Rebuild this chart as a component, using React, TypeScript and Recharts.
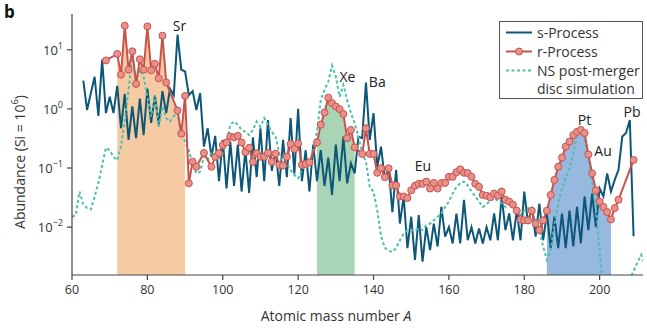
import { ComposedChart, Line, Area, XAxis, YAxis, Legend, ReferenceDot } from 'recharts';

// s-process abundances, one value per mass number starting at A = 63
const sFirstMass = 63;
const sAbundance = [
  3.0, 0.96, 1.85, 3.5, 0.76, 6.8, 0.85, 1.6, 0.85, 2.45,
  0.47, 1.8, 0.3, 1.1, 0.32, 1.5, 0.36, 2.2, 0.58, 1.7,
  0.54, 2.0, 0.85, 2.2, 1.7, 18, 4.6, 4.3, 1.7, 2.0,
  0.96, 1.85, 0.23, 0.47, 0.155, 0.35, 0.06, 0.3, 0.045, 0.28,
  0.05, 0.25, 0.04, 0.2, 0.038, 0.33, 0.07, 0.47, 0.06, 0.65,
  0.09, 0.2, 0.05, 0.3, 0.07, 0.7, 0.08, 1.0, 0.06, 0.2,
  0.04, 0.25, 0.06, 0.2, 0.05, 0.15, 0.035, 0.25, 0.06, 0.34,
  0.055, 0.12, 0.081, 0.34, 0.32, 2.8, 0.3, 0.85, 0.105, 0.23,
  0.063, 0.105, 0.018, 0.093, 0.0115, 0.033, 0.0044, 0.015, 0.0028, 0.016,
  0.0026, 0.01, 0.0041, 0.0115, 0.0047, 0.022, 0.0069, 0.01, 0.0053, 0.017,
  0.0053, 0.029, 0.006, 0.01, 0.0053, 0.0095, 0.0053, 0.01, 0.006, 0.017,
  0.006, 0.033, 0.0089, 0.017, 0.006, 0.019, 0.006, 0.04, 0.0115, 0.022,
  0.0069, 0.025, 0.006, 0.017, 0.0044, 0.015, 0.0044, 0.017, 0.0044, 0.019,
  0.0047, 0.022, 0.0053, 0.033, 0.0089, 0.037, 0.01, 0.045, 0.033, 0.081,
  0.04, 0.063, 0.093, 0.34, 0.39, 0.65, 0.007,
];

// r-process (solar residuals)
const rMass = [
  69, 72, 73, 74, 75, 76, 77, 78, 79, 80, 81, 82, 83, 84, 85, 88, 89, 90, 91, 92, 93, 95, 97,
  98, 99, 100, 101, 102, 103, 104, 105, 106, 107, 108, 109, 110, 111, 112, 113, 114, 115, 116,
  117, 118, 119, 120, 121, 122, 123, 125, 126, 127, 128, 129, 130, 131, 132, 133, 134, 135,
  137, 138, 139, 140, 141, 142, 143, 144, 145, 146, 147, 148, 149, 150, 151, 152, 153, 154,
  155, 156, 157, 158, 159, 160, 161, 162, 163, 164, 165, 166, 167, 168, 169, 170, 171, 172,
  173, 174, 175, 176, 177, 178, 179, 180, 181, 182, 183, 184, 185, 186, 187, 188, 189, 190,
  191, 192, 193, 194, 195, 196, 197, 198, 199, 200, 201, 202, 203, 204, 205, 209,
];
const rAbundance = [
  6.6, 8.5, 3.8, 25.5, 4.6, 9.4, 2.65, 6.9, 4.6, 24.8, 4.5, 5.8, 3.3, 17.3, 2.8, 0.94, 0.38, 1.66, 0.055, 0.128, 0.105, 0.18, 0.105,
  0.155, 0.178, 0.245, 0.27, 0.34, 0.33, 0.35, 0.27, 0.185, 0.22, 0.127, 0.178, 0.155, 0.155, 0.18, 0.128, 0.175, 0.113, 0.11,
  0.155, 0.255, 0.21, 0.26, 0.113, 0.117, 0.125, 0.27, 0.54, 0.87, 1.55, 1.25, 1.1, 0.99, 0.82, 0.32, 0.44, 0.224,
  0.173, 0.47, 0.173, 0.173, 0.083, 0.099, 0.07, 0.099, 0.051, 0.051, 0.033, 0.033, 0.031, 0.042, 0.05, 0.054, 0.054, 0.059,
  0.045, 0.056, 0.045, 0.056, 0.056, 0.071, 0.071, 0.085, 0.095, 0.083, 0.082, 0.071, 0.054, 0.048, 0.035, 0.034, 0.032, 0.037,
  0.034, 0.04, 0.029, 0.027, 0.024, 0.019, 0.0135, 0.013, 0.013, 0.019, 0.0115, 0.0089, 0.013, 0.019, 0.035, 0.063, 0.105, 0.15,
  0.23, 0.28, 0.36, 0.41, 0.44, 0.39, 0.17, 0.081, 0.042, 0.027, 0.022, 0.018, 0.0135, 0.021, 0.029, 0.137,
];

// NS post-merger disc simulation, one value per mass number starting at A = 60
const nsFirstMass = 60;
const nsAbundance = [
  0.015, 0.016, 0.04, 0.024, 0.021, 0.02, 0.033, 0.055, 0.11, 0.22,
  0.2, 0.155, 0.135, 0.23, 0.65, 2.1, 8.0, 3.1, 4.6, 3.5,
  1.6, 0.74, 1.7, 0.5, 1.1, 0.7, 0.61, 0.75, 0.85, 0.39,
  0.28, 0.2, 0.12, 0.081, 0.087, 0.155, 0.137, 0.18, 0.155, 0.146,
  0.178, 0.26, 0.54, 0.61, 0.54, 0.44, 0.41, 0.36, 0.44, 0.61,
  0.5, 0.7, 0.54, 0.41, 0.34, 0.178, 0.105, 0.12, 0.093, 0.076,
  0.067, 0.093, 0.12, 0.12, 0.2, 0.41, 1.42, 2.1, 2.9, 5.4,
  3.5, 1.6, 2.55, 1.42, 0.85, 0.57, 0.34, 0.178, 0.128, 0.048,
  0.04, 0.019, 0.007, 0.0045, 0.004, 0.0038, 0.0044, 0.006, 0.0078, 0.0089,
  0.0089, 0.0089, 0.0095, 0.0089, 0.0108, 0.0115, 0.013, 0.015, 0.017, 0.022,
  0.027, 0.037, 0.048, 0.055, 0.059, 0.051, 0.04, 0.033, 0.027, 0.022,
  0.024, 0.029, 0.031, 0.028, 0.025, 0.022, 0.029, 0.026, 0.02, 0.016,
  0.019, 0.021, 0.016, 0.012, 0.009, 0.0047, 0.0028, 0.0041, 0.011, 0.025,
  0.045, 0.07, 0.1, 0.18, 0.38, 0.46, 0.3, 0.15, 0.06, 0.022,
  0.004, 0.0008, 0.0008, 0.0008, 0.0008, 0.0008, 0.0008, 0.0009, 0.0013, 0.0018,
  0.0025, 0.0034, 0.0023,
];

// r-process peaks shaded under the curve
const peakStart = [72, 125, 186];
const peakEnd = [90, 135, 203];
const peakColors = ['#f6cba3', '#a9d5b6', '#97b8df'];

const xTicks = [60, 80, 100, 120, 140, 160, 180, 200];
const yTicks = [0.01, 0.1, 1, 10];

const elementNames = ['Sr', 'Xe', 'Ba', 'Eu', 'Pt', 'Au', 'Pb'];
const elementMass = [88.5, 133.1, 141.0, 153.1, 196.0, 200.9, 208.6];
const elementAbundance = [25.5, 3.46, 2.88, 0.11, 0.65, 0.195, 0.87];

const Y_MIN = 0.00155;
const Y_MAX = 40.3;
const FONT = '"Open Sans", "Liberation Sans", sans-serif';
const S_COLOR = '#0c5677';
const R_COLOR = '#c9524c';
const R_DOT = '#e8918b';
const NS_COLOR = '#4dbfad';
const AXIS = '#444';

const sData = sAbundance.map((v, i) => ({ mass: sFirstMass + i, abundance: v }));
const nsData = nsAbundance.map((v, i) => ({ mass: nsFirstMass + i, abundance: v }));
const rData = rMass.map((m, i) => ({ mass: m, abundance: rAbundance[i] }));
const peakData = peakStart.map((s, k) => rData.filter((d) => d.mass >= s && d.mass <= peakEnd[k]));

function YTick({ x, y, payload }: { x?: number; y?: number; payload?: { value: number } }) {
  const exp = Math.round(Math.log10(payload!.value));
  return (
    <text x={x} y={y} textAnchor="end" dominantBaseline="central" fontSize={13} fill="#333" fontFamily={FONT}>
      10<tspan dy={-5} fontSize={9}>{exp < 0 ? '\u2212' + -exp : exp}</tspan>
    </text>
  );
}

function YTitle() {
  return (
    <g>
      <text x={4} y={18} fontSize={17} fontWeight={700} fill="#111" fontFamily={FONT}>b</text>
      <text
        transform="translate(19,162) rotate(-90)"
        textAnchor="middle"
        dominantBaseline="central"
        fontSize={14}
        fill="#333"
        fontFamily={FONT}
      >
        Abundance (Si = 10<tspan dy={-5} fontSize={9.5}>6</tspan><tspan dy={5}>)</tspan>
      </text>
    </g>
  );
}

function XTitle() {
  return (
    <text x={336} y={321} textAnchor="middle" fontSize={14} fill="#333" fontFamily={FONT}>
      Atomic mass number <tspan fontStyle="italic">A</tspan>
    </text>
  );
}

function LegendBox() {
  const t = { fontSize: 14, fill: '#333', fontFamily: FONT, dominantBaseline: 'central' as const };
  return (
    <svg width={145} height={79} style={{ display: 'block' }}>
      <rect x={0.5} y={0.5} width={143} height={77} fill="#fff" stroke="#555" />
      <line x1={7} x2={33} y1={11.5} y2={11.5} stroke={S_COLOR} strokeWidth={2} />
      <text x={38} y={11.5} {...t}>s-Process</text>
      <line x1={7} x2={33} y1={30.5} y2={30.5} stroke={R_COLOR} strokeWidth={2} />
      <circle cx={20} cy={30.5} r={3.5} fill={R_DOT} stroke={R_COLOR} />
      <text x={38} y={30.5} {...t}>r-Process</text>
      <line x1={7} x2={33} y1={49.5} y2={49.5} stroke={NS_COLOR} strokeWidth={2} strokeDasharray="3 2.5" />
      <text x={38} y={49.5} {...t}>NS post-merger</text>
      <text x={38} y={67} {...t}>disc simulation</text>
    </svg>
  );
}

export default function App() {
  return (
    <div style={{ position: 'absolute', left: 0, top: 0, width: 647, height: 328, background: '#fff' }}>
      <ComposedChart width={647} height={328} margin={{ top: 14, right: 4, left: 0, bottom: 0 }}>
        <XAxis
          dataKey="mass"
          type="number"
          domain={[60, 211.5]}
          ticks={xTicks}
          allowDataOverflow
          height={53}
          tickSize={5}
          tickMargin={5}
          stroke={AXIS}
          strokeWidth={1.2}
          tick={{ fontSize: 12.5, fill: '#333', fontFamily: FONT }}
          label={<XTitle />}
        />
        <XAxis
          xAxisId="top"
          orientation="top"
          dataKey="mass"
          type="number"
          domain={[60, 211.5]}
          allowDataOverflow
          height={0}
          tick={false}
          tickLine={false}
          stroke={AXIS}
          strokeWidth={1.2}
        />
        <YAxis
          scale="log"
          type="number"
          domain={[Y_MIN, Y_MAX]}
          ticks={yTicks}
          allowDataOverflow
          width={72}
          tickSize={5}
          tickMargin={4}
          stroke={AXIS}
          strokeWidth={1.2}
          tick={<YTick />}
          label={<YTitle />}
        />
        {peakData.map((d, k) => (
          <Area
            key={k}
            data={d}
            dataKey="abundance"
            type="linear"
            stroke="none"
            fill={peakColors[k]}
            fillOpacity={1}
            baseValue={Y_MIN}
            dot={false}
            activeDot={false}
            isAnimationActive={false}
          />
        ))}
        <Line
          data={sData}
          dataKey="abundance"
          type="linear"
          stroke={S_COLOR}
          strokeWidth={2}
          dot={false}
          activeDot={false}
          isAnimationActive={false}
        />
        <Line
          data={nsData}
          dataKey="abundance"
          type="linear"
          stroke={NS_COLOR}
          strokeWidth={2}
          strokeDasharray="3 2.5"
          dot={false}
          activeDot={false}
          isAnimationActive={false}
        />
        <Line
          data={rData}
          dataKey="abundance"
          type="linear"
          stroke={R_COLOR}
          strokeWidth={2}
          dot={{ r: 3.5, fill: R_DOT, stroke: R_COLOR, strokeWidth: 1 }}
          activeDot={false}
          isAnimationActive={false}
        />
        {elementNames.map((name, i) => (
          <ReferenceDot
            key={name}
            x={elementMass[i]}
            y={elementAbundance[i]}
            r={0}
            fill="none"
            stroke="none"
            label={{ value: name, position: 'center', fontSize: 14, fill: '#222', fontFamily: FONT }}
          />
        ))}
        <Legend
          content={<LegendBox />}
          layout="horizontal"
          align="center"
          verticalAlign="middle"
          wrapperStyle={{ left: 499, top: 21, width: 145, height: 79 }}
        />
      </ComposedChart>
    </div>
  );
}
